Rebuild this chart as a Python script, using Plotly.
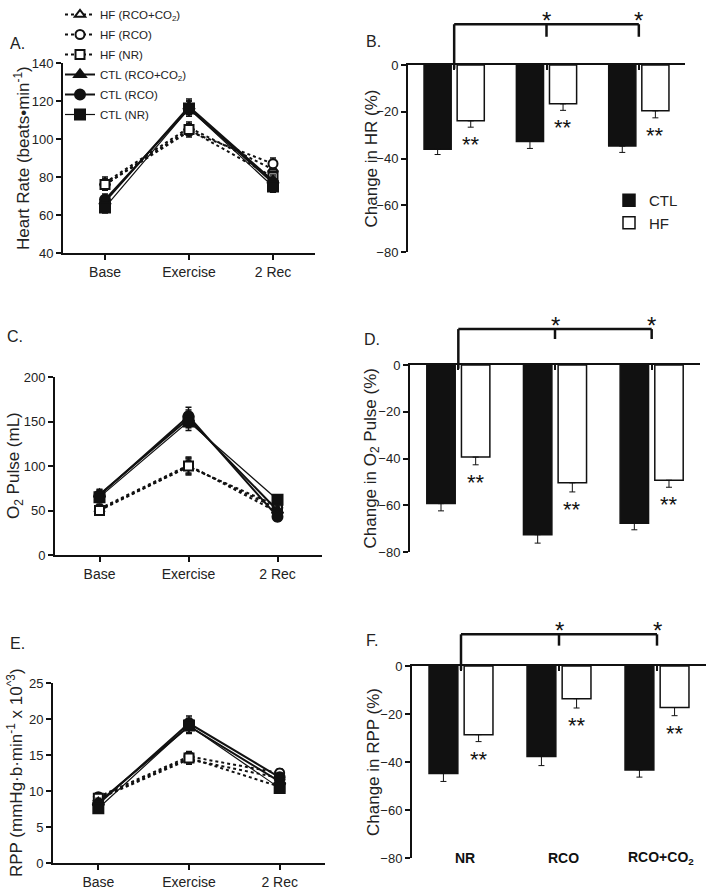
import plotly.graph_objects as go

# ── Data ──────────────────────────────────────────────────────────────────────
STAGES = ["Base", "Exercise", "2 Rec"]
CONDITIONS = ["NR", "RCO", "RCO+CO2"]
CONDITION_LABELS = ["NR", "RCO", "RCO+CO<sub>2</sub>"]

# Heart rate (beats/min)
HR_CTL_NR = [64, 116, 75]
HR_CTL_RCO = [68, 116, 77]
HR_CTL_RCOCO2 = [67, 117, 78]
HR_HF_NR = [76, 105, 80]
HR_HF_RCO = [76, 104, 87]
HR_HF_RCOCO2 = [77, 106, 84]
HR_CTL_ERR = [3, 4, 3]
HR_HF_ERR = [3, 3, 3]

# O2 pulse (mL)
O2_CTL_NR = [65, 150, 62]
O2_CTL_RCO = [67, 156, 43]
O2_CTL_RCOCO2 = [68, 153, 50]
O2_HF_NR = [50, 100, 52]
O2_HF_RCO = [52, 101, 48]
O2_HF_RCOCO2 = [51, 99, 55]
O2_CTL_ERR = [6, 10, 5]
O2_HF_ERR = [5, 9, 5]

# Rate pressure product (x 10^3)
RPP_CTL_NR = [7.6, 19.1, 10.4]
RPP_CTL_RCO = [8.2, 19.4, 11.9]
RPP_CTL_RCOCO2 = [8.4, 19.0, 11.3]
RPP_HF_NR = [9.0, 14.6, 10.6]
RPP_HF_RCO = [9.2, 14.8, 12.5]
RPP_HF_RCOCO2 = [8.9, 14.4, 11.8]
RPP_CTL_ERR = [0.6, 1.0, 0.6]
RPP_HF_ERR = [0.5, 0.7, 0.6]

# Percent change (recovery vs exercise)
HR_CHG_CTL = [-36.0, -32.7, -34.7]
HR_CHG_CTL_ERR = [2.3, 3.0, 2.7]
HR_CHG_HF = [-23.9, -16.6, -19.6]
HR_CHG_HF_ERR = [2.7, 2.8, 3.0]

O2_CHG_CTL = [-59.3, -72.6, -67.7]
O2_CHG_CTL_ERR = [3.1, 3.6, 2.8]
O2_CHG_HF = [-39.4, -50.4, -49.3]
O2_CHG_HF_ERR = [3.3, 3.9, 3.0]

RPP_CHG_CTL = [-44.8, -37.7, -43.3]
RPP_CHG_CTL_ERR = [3.3, 3.8, 3.0]
RPP_CHG_HF = [-28.6, -13.6, -17.3]
RPP_CHG_HF_ERR = [2.9, 3.9, 3.4]

# ── Style ─────────────────────────────────────────────────────────────────────
W, H = 714, 890
FONT = "Liberation Sans, Arial, sans-serif"
INK = "#111111"
BARGAP = 0.283
BARGROUPGAP = 0.18


def fx(p):
    return p / W


def fy(p):
    return 1 - p / H


fig = go.Figure()


def add_line_panel(n, series, errs, yrange, dtick, xdom, ydom, title, title_x, show_legend):
    xa, ya = f"x{n}" if n > 1 else "x", f"y{n}" if n > 1 else "y"
    for name, vals, group, symbol in series:
        hf = group == "HF"
        err = errs[1] if hf else errs[0]
        thin = name.endswith("(NR)") and not hf
        fig.add_trace(go.Scatter(
            x=STAGES, y=vals, name=name, xaxis=xa, yaxis=ya,
            mode="lines+markers",
            line=dict(color=INK, width=1.2 if thin else 2, dash="dot" if hf else "solid"),
            marker=dict(symbol=symbol, size=9 if hf else 10,
                        color="white" if hf else INK,
                        line=dict(color=INK, width=2)),
            error_y=dict(type="data", array=err, color=INK, thickness=1.5, width=3),
            showlegend=show_legend, legend="legend", legendgroup=name,
        ))
    ax = dict(domain=[fx(xdom[0]), fx(xdom[1])], anchor=ya, type="category",
              range=[-0.5, 2.5], showline=True, linecolor=INK, linewidth=2,
              ticks="outside", ticklen=5, tickwidth=2, tickcolor=INK,
              tickfont=dict(size=14, color="#222"), showgrid=False, zeroline=False)
    ay = dict(domain=[fy(ydom[1]), fy(ydom[0])], anchor=xa, range=yrange, dtick=dtick,
              showline=True, linecolor=INK, linewidth=2, ticks="outside", ticklen=5,
              tickwidth=2, tickcolor=INK, tickfont=dict(size=13, color="#222"),
              showgrid=False, zeroline=False)
    fig.update_layout(**{("xaxis" if n == 1 else f"xaxis{n}"): ax,
                         ("yaxis" if n == 1 else f"yaxis{n}"): ay})
    fig.add_annotation(text=title, xref="paper", x=fx(title_x), xanchor="center",
                       yref=f"{ya} domain", y=0.5, yanchor="middle",
                       textangle=-90, showarrow=False, font=dict(size=17, color="#222"))


def add_bar_panel(n, ctl, ctl_err, hf, hf_err, xdom, ydom, title, title_x,
                  bracket_y, tick_y, show_legend, show_labels):
    xa, ya = f"x{n}", f"y{n}"
    fig.add_trace(go.Bar(
        x=CONDITIONS, y=ctl, name="CTL", xaxis=xa, yaxis=ya,
        marker=dict(color=INK, line=dict(color=INK, width=1.5)),
        error_y=dict(type="data", symmetric=False, array=[0] * len(ctl), arrayminus=ctl_err,
                     color=INK, thickness=1, width=3),
        showlegend=show_legend, legend="legend2",
    ))
    fig.add_trace(go.Bar(
        x=CONDITIONS, y=hf, name="HF", xaxis=xa, yaxis=ya,
        marker=dict(color="white", line=dict(color=INK, width=1.5)),
        error_y=dict(type="data", symmetric=False, array=[0] * len(hf), arrayminus=hf_err,
                     color=INK, thickness=1, width=3),
        showlegend=show_legend, legend="legend2",
    ))
    fig.update_layout(**{
        f"xaxis{n}": dict(domain=[fx(xdom[0]), fx(xdom[1])], anchor=ya, side="top",
                          type="category", range=[-0.5, 2.5], showline=True, linecolor=INK,
                          linewidth=2, ticks="inside", ticklen=5, tickwidth=2, tickcolor=INK,
                          showticklabels=False, showgrid=False, zeroline=False),
        f"yaxis{n}": dict(domain=[fy(ydom[1]), fy(ydom[0])], anchor=xa, range=[-80, 0],
                          dtick=20, showline=True, linecolor=INK, linewidth=2,
                          ticks="outside", ticklen=5, tickwidth=2, tickcolor=INK,
                          tickfont=dict(size=13, color="#222"), showgrid=False,
                          zeroline=False),
    })
    fig.add_annotation(text=title, xref="paper", x=fx(title_x), xanchor="center",
                       yref=f"{ya} domain", y=0.5, yanchor="middle",
                       textangle=-90, showarrow=False, font=dict(size=17, color="#222"))

    # HF offset inside each group, from the bar layout
    hf_off = (1 - BARGAP) / 4
    for i, (v, e) in enumerate(zip(hf, hf_err)):
        fig.add_annotation(text="**", xref=xa, x=i + hf_off, yref=ya, y=v - e,
                           yanchor="top", yshift=-3, showarrow=False,
                           font=dict(size=22, color=INK))

    # significance bracket between NR and the other conditions
    line = dict(color=INK, width=2.5)
    yd = f"{ya} domain"
    fig.add_shape(type="line", xref=xa, yref=yd, x0=0, x1=0, y0=0.98, y1=bracket_y, line=line)
    fig.add_shape(type="line", xref=xa, yref=yd, x0=0, x1=2, y0=bracket_y, y1=bracket_y, line=line)
    for i in (1, 2):
        fig.add_shape(type="line", xref=xa, yref=yd, x0=i, x1=i, y0=bracket_y, y1=tick_y,
                      line=line)
        fig.add_annotation(text="*", xref=xa, x=i, yref=yd, y=bracket_y, yanchor="bottom",
                           yshift=-12, showarrow=False, font=dict(size=24, color=INK))

    if show_labels:
        for i, lab in enumerate(CONDITION_LABELS):
            fig.add_annotation(text=f"<b>{lab}</b>", xref=xa, x=i, yref=ya, y=-80,
                               xshift=4, showarrow=False, font=dict(size=14, color=INK))


# ── Panels A / C / E: time course ─────────────────────────────────────────────
def series(ctl_nr, ctl_rco, ctl_rcoco2, hf_nr, hf_rco, hf_rcoco2):
    return [
        ("HF (RCO+CO<sub>2</sub>)", hf_rcoco2, "HF", "triangle-up"),
        ("HF (RCO)", hf_rco, "HF", "circle"),
        ("HF (NR)", hf_nr, "HF", "square"),
        ("CTL (RCO+CO<sub>2</sub>)", ctl_rcoco2, "CTL", "triangle-up"),
        ("CTL (RCO)", ctl_rco, "CTL", "circle"),
        ("CTL (NR)", ctl_nr, "CTL", "square"),
    ]


add_line_panel(1, series(HR_CTL_NR, HR_CTL_RCO, HR_CTL_RCOCO2, HR_HF_NR, HR_HF_RCO, HR_HF_RCOCO2),
               (HR_CTL_ERR, HR_HF_ERR), [40, 140], 20, (63, 315), (63, 253),
               "Heart Rate (beats•min<sup>-1</sup>)", 22, True)
add_line_panel(3, series(O2_CTL_NR, O2_CTL_RCO, O2_CTL_RCOCO2, O2_HF_NR, O2_HF_RCO, O2_HF_RCOCO2),
               (O2_CTL_ERR, O2_HF_ERR), [0, 200], 50, (55, 322), (377, 555),
               "O<sub>2</sub> Pulse (mL)", 15, False)
add_line_panel(5, series(RPP_CTL_NR, RPP_CTL_RCO, RPP_CTL_RCOCO2, RPP_HF_NR, RPP_HF_RCO,
                         RPP_HF_RCOCO2),
               (RPP_CTL_ERR, RPP_HF_ERR), [0, 25], 5, (53, 325), (683, 863),
               "RPP (mmHg·b·min<sup>-1</sup> x 10<sup>^3</sup>)", 15, False)

# ── Panels B / D / F: percent change ──────────────────────────────────────────
add_bar_panel(2, HR_CHG_CTL, HR_CHG_CTL_ERR, HR_CHG_HF, HR_CHG_HF_ERR, (408, 685), (65, 252),
              "Change in HR (%)", 371, 1.218, 1.151, True, False)
add_bar_panel(4, O2_CHG_CTL, O2_CHG_CTL_ERR, O2_CHG_HF, O2_CHG_HF_ERR, (410, 700), (365, 552),
              "Change in O<sub>2</sub> Pulse (%)", 371, 1.192, 1.139, False, False)
add_bar_panel(6, RPP_CHG_CTL, RPP_CHG_CTL_ERR, RPP_CHG_HF, RPP_CHG_HF_ERR, (412, 706), (666, 858),
              "Change in RPP (%)", 373, 1.165, 1.106, False, True)

# panel letters
for letter, x, y in [("A.", 8, 43), ("B.", 364, 42), ("C.", 5, 336),
                     ("D.", 362, 339), ("E.", 8, 643), ("F.", 364, 640)]:
    fig.add_annotation(text=letter, xref="paper", yref="paper", x=fx(x), y=fy(y),
                       xanchor="left", yanchor="middle", showarrow=False,
                       font=dict(size=16, color="#222"))

fig.update_layout(
    width=W, height=H,
    margin=dict(l=0, r=0, t=0, b=0, autoexpand=False),
    paper_bgcolor="white", plot_bgcolor="white",
    font=dict(family=FONT, color="#222"),
    barmode="group", bargap=BARGAP, bargroupgap=BARGROUPGAP,
    legend=dict(x=fx(60), y=fy(0), xanchor="left", yanchor="top",
                bgcolor="rgba(0,0,0,0)", font=dict(size=11.5, color="#222"),
                itemwidth=30, tracegroupgap=1),
    legend2=dict(x=fx(609), y=fy(184), xanchor="left", yanchor="top",
                 bgcolor="rgba(0,0,0,0)", font=dict(size=15, color="#222")),
)

# drop the browser's default body margin so the figure sits at the page origin
fig.write_html("out.html", config={"displayModeBar": False},
               post_script="document.body.style.margin = '0';")
